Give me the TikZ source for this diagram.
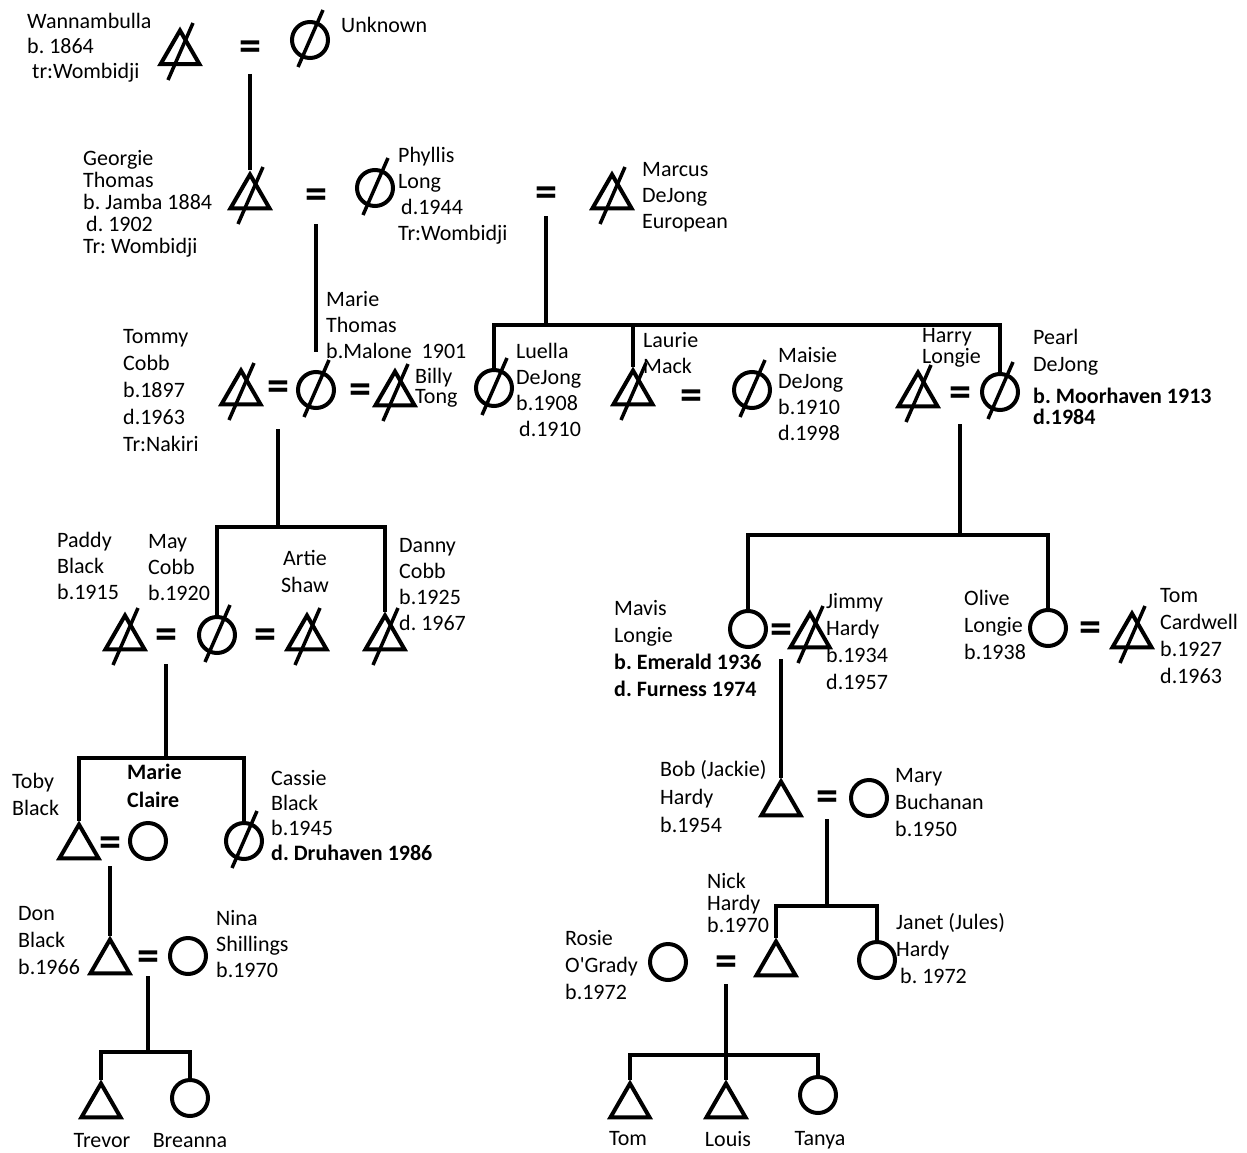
\documentclass[tikz,border=0pt]{standalone}
\usepackage{fontspec}
\setmainfont{Carlito}
\usetikzlibrary{shapes.geometric}
\tikzset{
  male/.style={draw, line width=4pt, regular polygon, regular polygon sides=3, minimum size=45pt, inner sep=0pt},
  female/.style={draw, line width=4pt, circle, minimum size=36pt, inner sep=0pt},
  wed/.style={font=\fontsize{44}{44}\selectfont\bfseries, inner sep=0pt, yshift=-4pt},
  kin/.style={line width=4pt},
  slash/.style={line width=3.5pt},
  who/.style={anchor=north west, inner sep=0pt, align=left, font=\fontsize{22}{#1}\selectfont},
  who/.default=26,
  heavy/.style={font=\fontsize{22}{#1}\selectfont\bfseries},
  heavy/.default=26,
}

\begin{document}
\frenchspacing
\begin{tikzpicture}[x=1pt, y=-1pt]
  \path[use as bounding box, fill=white] (0,0) rectangle (1247,1153);

  \node[male] (wann) at (180,53) {};
  \node[wed] (e1) at (250,47) {=};
  \node[female] (unknown) at (310,40) {};

  \node[male] (georgie) at (250,197) {};
  \node[wed] (e2) at (316,195) {=};
  \node[female] (phyllis) at (375,188) {};
  \node[wed] (e3) at (546,193) {=};
  \node[male] (marcus) at (612,197) {};

  \node[male] (tommy) at (241,393) {};
  \node[wed] (e4) at (278,387) {=};
  \node[female] (marie) at (316,390) {};
  \node[wed] (e5) at (360,390) {=};
  \node[male] (billy) at (395,394) {};
  \node[female] (luella) at (494,388) {};
  \node[male] (laurie) at (633,393) {};
  \node[wed] (e6) at (691,396) {=};
  \node[female] (maisie) at (752,390) {};
  \node[male] (harry) at (918,395) {};
  \node[wed] (e7) at (960,393) {=};
  \node[female] (pearl) at (1000,392) {};

  \node[male] (paddy) at (125,638) {};
  \node[wed] (e8) at (166,635) {=};
  \node[female] (may) at (217,635) {};
  \node[wed] (e9) at (265,635) {=};
  \node[male] (artie) at (307,638) {};
  \node[male] (danny) at (385,638) {};
  \node[female] (mavis) at (748,629) {};
  \node[wed] (e10) at (781,630) {=};
  \node[male] (jimmy) at (810,636) {};
  \node[female] (olive) at (1048,628) {};
  \node[wed] (e11) at (1090,628) {=};
  \node[male] (tomc) at (1132,636) {};

  \node[male] (toby) at (79,847) {};
  \node[wed] (e12) at (110,843) {=};
  \node[female] (claire) at (148,841) {};
  \node[female] (cassie) at (244,841) {};
  \node[male] (bob) at (781,804) {};
  \node[wed] (e13) at (827,797) {=};
  \node[female] (mary) at (869,798) {};

  \node[male] (don) at (110,962) {};
  \node[wed] (e14) at (148,957) {=};
  \node[female] (nina) at (188,956) {};
  \node[female] (rosie) at (668,962) {};
  \node[wed] (e15) at (726,962) {=};
  \node[male] (nick) at (776,964) {};
  \node[female] (janet) at (877,960) {};

  \node[male] (trevor) at (101,1106) {};
  \node[female] (breanna) at (190,1098) {};
  \node[male] (tom) at (630,1106) {};
  \node[male] (louis) at (726,1106) {};
  \node[female] (tanya) at (818,1095) {};

  \foreach \n in {wann,unknown,georgie,phyllis,marcus,tommy,marie,billy,luella,laurie,maisie,harry,pearl,paddy,may,artie,danny,jimmy,tomc,cassie}
    \draw[slash] (\n.center) ++(-12,27) -- ++(25,-57);

  \coordinate (bar3) at (546,325);
  \coordinate (bar4) at (278,527);
  \coordinate (bar7) at (960,535);
  \coordinate (bar8) at (166,758);
  \coordinate (bar13) at (827,906);
  \coordinate (bar14) at (148,1052);
  \coordinate (bar15) at (726,1055);

  \draw[kin] (e1) ++(0,23) -- (georgie.north);
  \draw[kin, shorten >=18pt] (e2) ++(0,25) -- (marie.north);
  \draw[kin] (e3) ++(0,19) -- (bar3);
  \draw[kin] (luella.north) |- (bar3) -| (pearl.north);
  \draw[kin] (laurie.north) -- (laurie.north |- bar3);
  \draw[kin] (e4) ++(0,38) -- (bar4);
  \draw[kin] (may.north) |- (bar4) -| (danny.north);
  \draw[kin] (e7) ++(0,27) -- (bar7);
  \draw[kin] (mavis.north) |- (bar7) -| (olive.north);
  \draw[kin] (e8) ++(0,25) -- (bar8);
  \draw[kin] (toby.north) |- (bar8) -| (cassie.north);
  \draw[kin] (e10) ++(0,25) -- (bob.north);
  \draw[kin] (e12) ++(0,19) -- (don.north);
  \draw[kin] (e13) ++(0,18) -- (bar13);
  \draw[kin] (nick.north) |- (bar13) -| (janet.north);
  \draw[kin] (e14) ++(0,15) -- (bar14);
  \draw[kin] (trevor.north) |- (bar14) -| (breanna.north);
  \draw[kin] (e15) ++(0,18) -- (louis.north);
  \draw[kin] (tom.north) |- (bar15) -| (tanya.north);

  \node[who=25] (l-wann) at (27,13) {Wannambulla\\b. 1864\\\hspace*{5pt}tr:Wombidji};
  \node[who] (l-unknown) at (341,17) {Unknown};
  \node[who=22] (l-georgie) at (83,150) {Georgie\\Thomas\\b. Jamba 1884\\\hspace*{3pt}d. 1902\\Tr: Wombidji};
  \node[who] (l-phyllis) at (398,147) {Phyllis\\Long\\\hspace*{3pt}d.1944\\Tr:Wombidji};
  \node[who] (l-marcus) at (642,162) {Marcus\\DeJong\\European};
  \node[who] (l-marie) at (326,291) {Marie\\Thomas\\b.Malone\ \ 1901};
  \node[who=27] (l-tommy) at (123,329) {Tommy\\Cobb\\b.1897\\d.1963\\Tr:Nakiri};
  \node[who=20] (l-billy) at (415,368) {Billy\\Tong};
  \node[who] (l-luella) at (516,343) {Luella\\DeJong\\b.1908\\\hspace*{3pt}d.1910};
  \node[who] (l-laurie) at (643,332) {Laurie\\Mack};
  \node[who] (l-maisie) at (778,347) {Maisie\\DeJong\\b.1910\\d.1998};
  \node[who=21] (l-harry) at (922,328) {Harry\\Longie};
  \node[who=27] (l-pearl) at (1033,329) {Pearl\\DeJong};
  \node[who, heavy=21] (l-pearl2) at (1033,388) {b. Moorhaven 1913\\d.1984};
  \node[who] (l-paddy) at (57,532) {Paddy\\Black\\b.1915};
  \node[who] (l-may) at (148,534) {May\\Cobb\\b.1920};
  \node[who=27, anchor=north, align=center] (l-artie) at (305,550) {Artie\\Shaw};
  \node[who] (l-danny) at (399,538) {Danny\\Cobb\\b.1925\\d. 1967};
  \node[who=27] (l-mavis) at (614,600) {Mavis\\Longie\\\textbf{b. Emerald 1936}\\\textbf{d. Furness 1974}};
  \node[who=27] (l-jimmy) at (826,593) {Jimmy\\Hardy\\b.1934\\d.1957};
  \node[who=27] (l-olive) at (964,590) {Olive\\Longie\\b.1938};
  \node[who=27] (l-tomc) at (1160,588) {Tom\\Cardwell\\b.1927\\d.1963};
  \node[who=27] (l-toby) at (12,773) {Toby\\Black};
  \node[who, heavy=28] (l-claire) at (127,764) {Marie\\Claire};
  \node[who=25] (l-cassie) at (271,770) {Cassie\\Black\\b.1945\\\textbf{d. Druhaven 1986}};
  \node[who=27] (l-don) at (18,906) {Don\\Black\\b.1966};
  \node[who] (l-nina) at (216,910) {Nina\\Shillings\\b.1970};
  \node[who=28] (l-bob) at (660,760) {Bob (Jackie)\\Hardy\\b.1954};
  \node[who=27] (l-mary) at (895,768) {Mary\\Buchanan\\b.1950};
  \node[who=22] (l-nick) at (707,873) {Nick\\Hardy\\b.1970};
  \node[who=27] (l-janet) at (896,913) {Janet (Jules)\\Hardy\\\hspace*{4pt}b. 1972};
  \node[who=27] (l-rosie) at (565,930) {Rosie\\O\textquotesingle Grady\\b.1972};
  \node[who, anchor=north] (l-trevor) at (102,1133) {Trevor};
  \node[who, anchor=north] (l-breanna) at (190,1133) {Breanna};
  \node[who, anchor=north] (l-tom) at (628,1131) {Tom};
  \node[who, anchor=north] (l-louis) at (728,1131) {Louis};
  \node[who, anchor=north] (l-tanya) at (820,1131) {Tanya};
\end{tikzpicture}
\end{document}
